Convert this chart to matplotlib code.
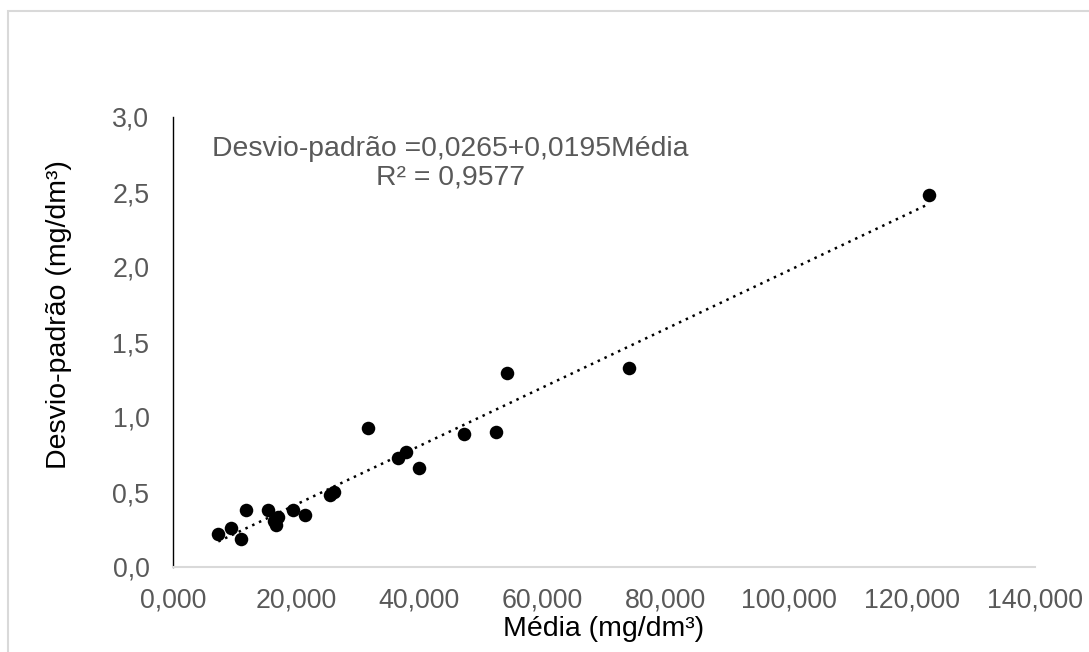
import numpy as np
import matplotlib
matplotlib.use("Agg")
import matplotlib.pyplot as plt
from matplotlib.ticker import FuncFormatter, MultipleLocator
from matplotlib.patches import Rectangle

plt.rcParams["font.family"] = ["Liberation Sans", "DejaVu Sans"]

media = [7.36, 9.37, 11.10, 11.86, 15.39, 16.41, 16.73, 17.11, 19.55, 21.49,
         25.51, 26.16, 31.63, 36.51, 37.86, 40.02, 47.28, 52.48, 54.22, 74.14,
         122.71]
desvio = [0.218, 0.262, 0.185, 0.38, 0.38, 0.307, 0.277, 0.335, 0.38, 0.345,
          0.483, 0.497, 0.925, 0.727, 0.767, 0.662, 0.885, 0.90, 1.291, 1.329,
          2.48]

# linear trend (coefficients from the regression)
intercept = 0.0265
slope = 0.0195
r2 = 0.9577

gray = "#595959"

fig = plt.figure(figsize=(10.89, 6.52), dpi=100)
ax = fig.add_axes([173 / 1089, 85 / 652, 862 / 1089, 450 / 652])

ax.scatter(media, desvio, s=95, color="black", zorder=3, linewidths=0)

xl = np.array([min(media), max(media)])
ax.plot(xl, intercept + slope * xl, color="black", lw=1.8,
        linestyle=(0, (1, 2.0)), zorder=2)

ax.set_xlim(0, 140)
ax.set_ylim(0, 3)
ax.xaxis.set_major_locator(MultipleLocator(20))
ax.yaxis.set_major_locator(MultipleLocator(0.5))
ax.xaxis.set_major_formatter(FuncFormatter(lambda v, p: f"{v:.3f}".replace(".", ",")))
ax.yaxis.set_major_formatter(FuncFormatter(lambda v, p: f"{v:.1f}".replace(".", ",")))
ax.tick_params(axis="both", length=0, labelsize=19.3, labelcolor=gray)
ax.tick_params(axis="x", pad=15)
ax.tick_params(axis="y", pad=17)

ax.spines["top"].set_visible(False)
ax.spines["right"].set_visible(False)
ax.spines["left"].set_color("black")
ax.spines["left"].set_linewidth(1.0)
ax.spines["bottom"].set_color("#d9d9d9")
ax.spines["bottom"].set_linewidth(1.5)

ax.set_xlabel("Média (mg/dm³)", fontsize=20.5, color="black")
ax.set_ylabel("Desvio-padrão (mg/dm³)", fontsize=20.5, color="black")
ax.xaxis.set_label_coords(0.5, -0.108)
ax.yaxis.set_label_coords(-0.117, 0.56)

ax.text(0.322, 0.958, "Desvio-padrão =0,0265+0,0195Média\nR² = 0,9577",
        transform=ax.transAxes, ha="center", va="top", fontsize=20.4,
        color=gray, linespacing=1.12)

# outer chart border
fig.add_artist(Rectangle((8 / 1089, -0.1), 1.2, 1.1 - 11 / 652,
                         transform=fig.transFigure, fill=False,
                         edgecolor="#d9d9d9", lw=1.5))

fig.savefig("out.png", dpi=100)
